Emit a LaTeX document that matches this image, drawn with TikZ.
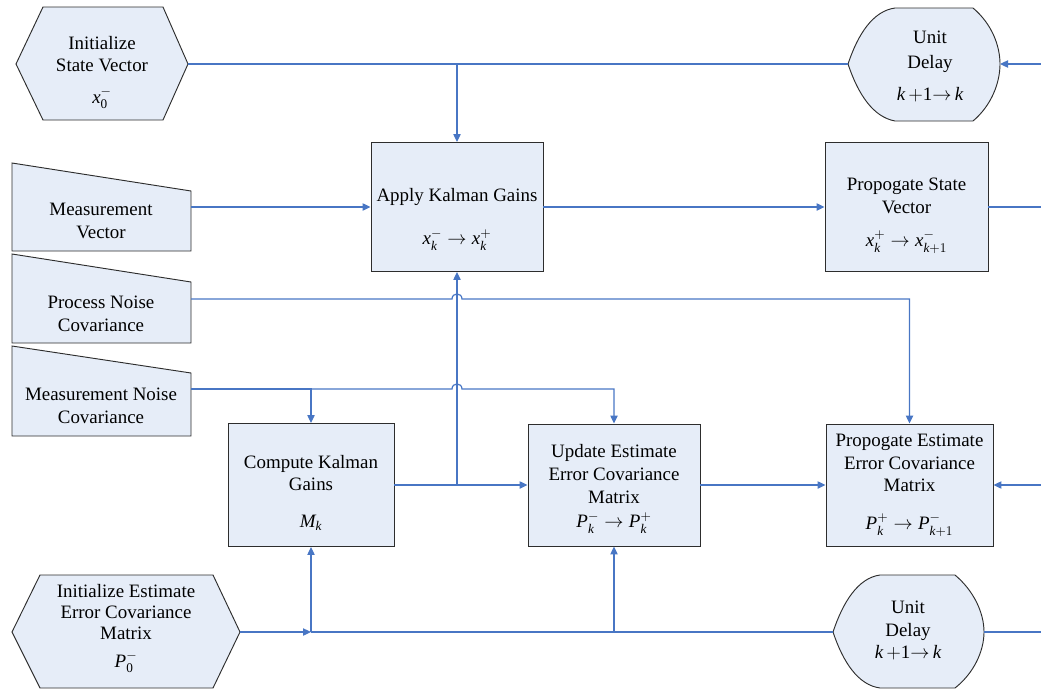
\documentclass[tikz,border=0pt]{standalone}
\usepackage{amsmath}
\usepackage{fontspec}
\setmainfont{Liberation Serif}
\usetikzlibrary{arrows.meta}
\definecolor{wire}{RGB}{72,118,196}
\definecolor{boxfill}{RGB}{230,237,248}
\definecolor{edgecol}{RGB}{45,45,45}
\newcommand{\iv}[1]{\textit{#1}}
\newcommand{\delaystep}{$\iv{k}\,{+}\text{1}{\rightarrow}\,\iv{k}$}

\begin{document}
\begin{tikzpicture}[x=0.75pt,y=-0.75pt,
  shapebox/.style={draw=edgecol,fill=boxfill,line width=0.7pt},
  block/.style={shapebox,rectangle,inner sep=0pt},
  lbl/.style={align=center,font=\fontsize{14.2}{17}\selectfont,inner sep=0pt},
  wireln/.style={draw=wire,line width=0.9pt},
  arr/.style={wireln,-{Triangle[length=6pt,width=5.5pt]}},
]
\useasboundingbox (0,0) rectangle (1041,689);

% ---------- rectangular process blocks ----------
\node[block,minimum width=129pt,minimum height=96.75pt] (apply) at (457,207) {};
\node[block,minimum width=122.25pt,minimum height=96.75pt] (psv) at (906.5,207) {};
\node[block,minimum width=124.5pt,minimum height=92.25pt] (ckg) at (311,485) {};
\node[block,minimum width=129pt,minimum height=91.5pt] (upd) at (614,485) {};
\node[block,minimum width=125.25pt,minimum height=91.5pt] (ped) at (909.5,485) {};

\node[lbl] (applyT) at (457,197) {Apply Kalman Gains};
\node[lbl] (applyF) at (457,240) {$\iv{x}_{\iv{k}}^{-}\rightarrow\iv{x}_{\iv{k}}^{+}$};
\node[lbl] (psvT) at (906.5,196) {Propogate State\\Vector};
\node[lbl] (psvF) at (906.5,242) {$\iv{x}_{\iv{k}}^{+}\rightarrow\iv{x}_{\iv{k}+1}^{-}$};
\node[lbl] (ckgT) at (311,473) {Compute Kalman\\Gains};
\node[lbl] (ckgF) at (311,523) {$\iv{M}_{\iv{k}}$};
\node[lbl] (updT) at (614,474) {Update Estimate\\Error Covariance\\Matrix};
\node[lbl] (updF) at (614,523) {$\iv{P}_{\iv{k}}^{-}\rightarrow\iv{P}_{\iv{k}}^{+}$};
\node[lbl] (pedT) at (909.5,463) {Propogate Estimate\\Error Covariance\\Matrix};
\node[lbl] (pedF) at (909.5,525) {$\iv{P}_{\iv{k}}^{+}\rightarrow\iv{P}_{\iv{k}+1}^{-}$};

% ---------- preparation (hexagon) shapes ----------
\path[shapebox] (16,64) -- (43,7) -- (163,7) -- (188,64) -- (163,120) -- (43,120) -- cycle;
\coordinate (isvout) at (188,64);
\node[lbl] (isvT) at (102,54) {Initialize\\State Vector};
\node[lbl] (isvF) at (102,98) {$\iv{x}_{\text{0}}^{-}$};

\path[shapebox] (12,632) -- (40,575) -- (213,575) -- (240,632) -- (213,688) -- (40,688) -- cycle;
\coordinate (iecout) at (240,632);
\node[lbl,font=\fontsize{14.2}{15.6}\selectfont] (iecT) at (126,612) {Initialize Estimate\\Error Covariance\\Matrix};
\node[lbl] (iecF) at (126,662) {$\iv{P}_{\text{0}}^{-}$};

% ---------- manual input shapes ----------
\path[shapebox] (12,163) -- (191,191) -- (191,251) -- (12,251) -- cycle;
\coordinate (mvout) at (191,207);
\node[lbl] (mvT) at (101,221) {Measurement\\Vector};

\path[shapebox] (12,254) -- (191,282) -- (191,343) -- (12,343) -- cycle;
\coordinate (pnout) at (191,299);
\node[lbl] (pnT) at (101,314) {Process Noise\\Covariance};

\path[shapebox] (12,346) -- (191,373) -- (191,436) -- (12,436) -- cycle;
\coordinate (mnout) at (191,389);
\node[lbl] (mnT) at (101,406) {Measurement Noise\\Covariance};

% ---------- unit delay shapes ----------
\path[shapebox] (848,64) .. controls (858,34) and (873,11) .. (895,8) -- (973,8)
  .. controls (992,24) and (1000,46) .. (1000,64)
  .. controls (1000,82) and (992,105) .. (973,121) -- (895,121)
  .. controls (873,117) and (858,94) .. (848,64) -- cycle;
\coordinate (ud1l) at (848,64);
\coordinate (ud1r) at (1000,64);
\node[lbl,font=\fontsize{14.2}{18.5}\selectfont] (ud1T) at (930,52) {Unit\\Delay};
\node[lbl] (ud1F) at (930,95) {\delaystep};

\path[shapebox] (833,632) .. controls (843,602) and (858,578) .. (880,575) -- (955,575)
  .. controls (974,591) and (984,613) .. (984,632)
  .. controls (984,651) and (974,673) .. (955,688) -- (880,688)
  .. controls (858,685) and (843,662) .. (833,632) -- cycle;
\coordinate (ud2l) at (833,632);
\coordinate (ud2r) at (984,632);
\node[lbl] (ud2T) at (908,621) {Unit\\Delay};
\node[lbl] (ud2F) at (908,653) {\delaystep};

% ---------- outer ends of the feedback lines ----------
\coordinate (edgeTop) at (1041,64);
\coordinate (edgeMid) at (1041,207);
\coordinate (edgeCov) at (1041,485);
\coordinate (edgeBot) at (1041,632);

% ---------- state vector loop ----------
\draw[wireln] (isvout) -- (ud1l);
\draw[arr] (apply.north |- isvout) -- (apply.north);
\draw[arr] (edgeTop) -- (ud1r);
\draw[arr] (mvout) -- (apply.west);
\draw[arr] (apply.east) -- (psv.west);
\draw[wireln] (psv.east) -- (edgeMid);

% ---------- gain and covariance paths ----------
\draw[arr] (ckg.east) -- (upd.west);
\draw[arr] (ckg.east -| apply.south) -- (apply.south);
\draw[arr] (pnout) -- (452,299) .. controls (452,292.3) and (462,292.3) .. (462,299) -| (ped.north);
\draw[arr] (mnout) -| (ckg.north);
\draw[arr] (ckg.north |- mnout) -- (452,389) .. controls (452,382.3) and (462,382.3) .. (462,389) -| (upd.north);
\draw[arr] (upd.east) -- (ped.west);
\draw[arr] (edgeCov) -- (ped.east);

% ---------- covariance loop ----------
\draw[arr] (iecout) -- (ckg.south |- iecout);
\draw[wireln] (ckg.south |- iecout) -- (ud2l);
\draw[arr] (ckg.south |- iecout) -- (ckg.south);
\draw[arr] (upd.south |- iecout) -- (upd.south);
\draw[wireln] (ud2r) -- (edgeBot);
\end{tikzpicture}
\end{document}
